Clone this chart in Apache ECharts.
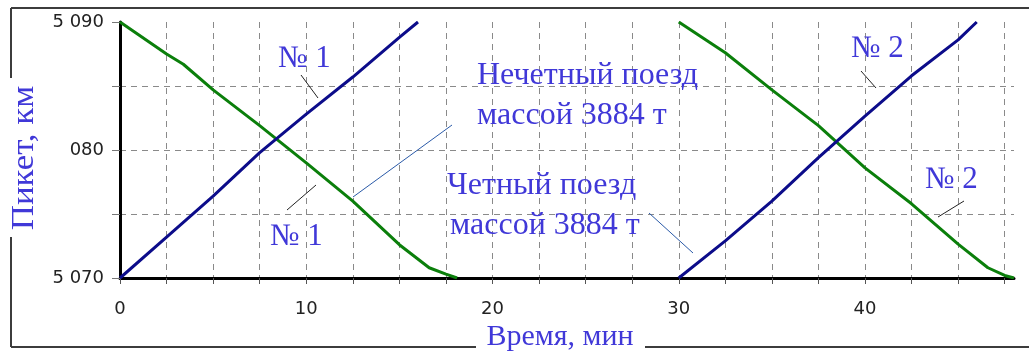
<!DOCTYPE html>
<html>
<head>
<meta charset="utf-8">
<script src="https://cdn.jsdelivr.net/npm/echarts@6/dist/echarts.min.js"></script>
<style>
  html, body { margin: 0; padding: 0; background: #ffffff; }
  #chart { width: 1029px; height: 356px; }
</style>
</head>
<body>
<div id="chart"></div>
<script>
// Время движения, мин, и пикет, км — для каждого поезда
const oddTrain1Time = [0, 2.5, 5, 7.5, 10, 12.5, 15, 16.0];
const oddTrain1Km   = [5070, 5073.2, 5076.4, 5079.8, 5082.8, 5085.7, 5088.8, 5090];

const evenTrain1Time = [0, 2.5, 3.4, 5, 7.5, 10, 12.5, 15, 16.6, 17.5, 18.1];
const evenTrain1Km   = [5090, 5087.5, 5086.7, 5084.7, 5081.9, 5079.0, 5076.0, 5072.6, 5070.8, 5070.3, 5070];

const oddTrain2Time = [30, 32.5, 35, 37.5, 40, 42.5, 45, 46.0];
const oddTrain2Km   = [5070, 5072.9, 5076.0, 5079.4, 5082.65, 5085.8, 5088.6, 5090];

const evenTrain2Time = [30, 32.5, 35, 37.5, 40, 42.5, 45, 46.6, 47.5, 48.0];
const evenTrain2Km   = [5090, 5087.6, 5084.7, 5081.9, 5078.6, 5075.8, 5072.65, 5070.8, 5070.2, 5070];

// Подписи оси пикетов и оси времени
const kmTickLabels = { 5090: '5 090', 5080: '080', 5070: '5 070' };
const timeTickLabels = [0, 10, 20, 30, 40];

const pairs = (t, v) => t.map((x, i) => [x, v[i]]);

const BLUE = '#0c0c8a';
const GREEN = '#0b7f0b';
const TEXT = '#4038d8';
const SERIF = '"Liberation Serif", "Times New Roman", serif';

const chart = echarts.init(document.getElementById('chart'), null, { renderer: 'canvas' });

const gridDash = { color: '#8a8a8a', type: [6, 5], width: 1 };

function text(x, y, str, size, opts) {
  return Object.assign({
    type: 'text', x: x, y: y, silent: true, z: 10,
    style: { text: str, font: size + 'px ' + SERIF, fill: TEXT, align: 'left', verticalAlign: 'middle' }
  }, opts || {});
}
function centered(x, y, str, size, opts) {
  const el = text(x, y, str, size, opts);
  el.style.align = 'center';
  return el;
}
function seg(x1, y1, x2, y2, color, w) {
  return { type: 'line', silent: true, z: 9,
    shape: { x1: x1, y1: y1, x2: x2, y2: y2 },
    style: { stroke: color, lineWidth: w } };
}

const option = {
  animation: false,
  backgroundColor: '#ffffff',
  grid: { left: 120, top: 22, height: 256, width: 894, containLabel: false },
  xAxis: {
    type: 'value', min: 0, max: 48, interval: 2.5,
    axisLine: { show: true, onZero: false, lineStyle: { color: '#000', width: 3 } },
    axisTick: { show: true, length: 6, lineStyle: { color: '#555', width: 1 } },
    axisLabel: {
      margin: 22, fontSize: 18, color: '#222', fontFamily: '"DejaVu Sans", sans-serif',
      showMaxLabel: false,
      formatter: v => timeTickLabels.includes(v) ? String(v) : ''
    },
    splitLine: { show: true, showMinLine: false, showMaxLine: false, lineStyle: gridDash }
  },
  yAxis: {
    type: 'value', min: 5070, max: 5090, interval: 5,
    axisLine: { show: true, onZero: false, lineStyle: { color: '#000', width: 3 } },
    axisTick: { show: true, length: 8, lineStyle: { color: '#777', width: 1 } },
    axisLabel: {
      margin: 16, fontSize: 18, color: '#222', fontFamily: '"DejaVu Sans", sans-serif',
      formatter: v => kmTickLabels[v] || ''
    },
    splitLine: { show: true, showMinLine: false, showMaxLine: false, lineStyle: gridDash }
  },
  series: [
    { type: 'line', data: pairs(oddTrain1Time, oddTrain1Km), symbol: 'none',
      lineStyle: { color: BLUE, width: 3 }, z: 3 },
    { type: 'line', data: pairs(evenTrain1Time, evenTrain1Km), symbol: 'none',
      lineStyle: { color: GREEN, width: 3 }, z: 2 },
    { type: 'line', data: pairs(oddTrain2Time, oddTrain2Km), symbol: 'none',
      lineStyle: { color: BLUE, width: 3 }, z: 3 },
    { type: 'line', data: pairs(evenTrain2Time, evenTrain2Km), symbol: 'none',
      lineStyle: { color: GREEN, width: 3 }, z: 2 }
  ],
  graphic: [
    // рамка
    seg(11, 8, 1029, 8, '#3c3c3c', 2),
    seg(11, 8, 11, 78, '#3c3c3c', 2),
    seg(11, 237, 11, 347, '#3c3c3c', 2),
    seg(11, 347, 476, 347, '#3c3c3c', 2),
    seg(645, 347, 1029, 347, '#3c3c3c', 2),
    // названия осей
    centered(25, 158, 'Пикет, км', 32, { rotation: Math.PI / 2, scaleX: 1.09 }),
    centered(560, 337, 'Время, мин', 30),
    // подписи поездов
    text(477, 76, 'Нечетный поезд', 32),
    text(477, 116, 'массой 3884 т', 32),
    seg(353, 197, 452, 125, '#2a5aa8', 1),
    text(447, 186, 'Четный поезд', 32),
    text(450, 226, 'массой 3884 т', 32),
    seg(649, 213, 693, 253, '#2a5aa8', 1),
    // номера поездов
    text(278, 58.5, '№ 1', 31),
    seg(301, 75, 318, 98, '#222', 1),
    text(270, 236.5, '№ 1', 31),
    seg(287, 210, 316, 185, '#222', 1),
    text(851, 48.5, '№ 2', 31),
    seg(861, 71, 876, 88, '#222', 1),
    text(925, 179.5, '№ 2', 31),
    seg(938, 217, 964, 201, '#222', 1)
  ]
};

chart.setOption(option);
</script>
</body>
</html>
